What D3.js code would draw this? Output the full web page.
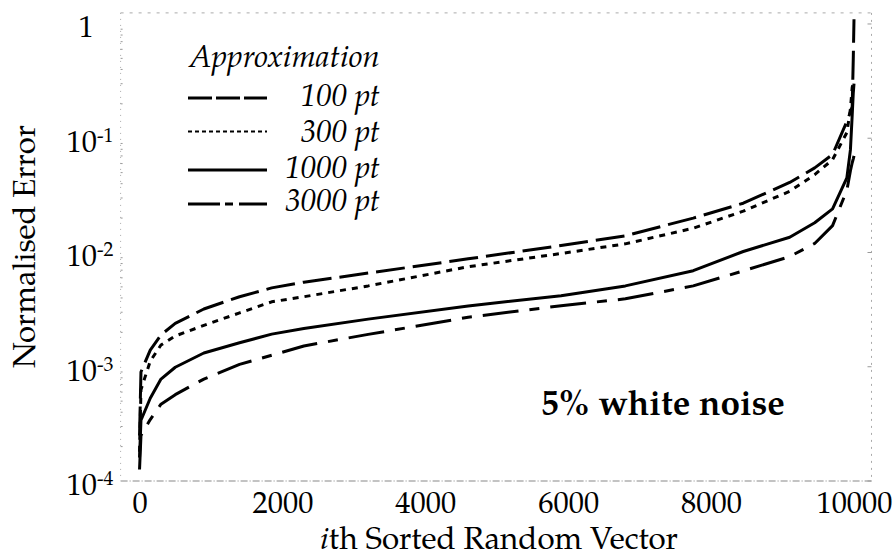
<!DOCTYPE html>
<html><head><meta charset="utf-8">
<script src="https://cdn.jsdelivr.net/npm/d3@7"></script>
<style>body{margin:0;background:#fff} svg{display:block}</style>
</head><body>
<svg id="chart" width="895" height="558"></svg>
<script>
// ---- data ----
const sampleIndex = [0, 20, 150, 300, 500, 900, 1400, 1850, 2300, 3200, 4600, 5900, 6800, 7750, 8450, 9100, 9450, 9700, 9900, 9950, 9975, 9990, 10000];
const err100  = [2.5e-4, 9.0e-4, 1.4e-3, 1.9e-3, 2.4e-3, 3.2e-3, 4.1e-3, 4.9e-3, 5.5e-3, 6.6e-3, 8.8e-3, 1.15e-2, 1.4e-2, 2.0e-2, 2.7e-2, 4.1e-2, 5.5e-2, 7.2e-2, 0.14, 0.17, 0.19, 0.5, 1.1];
const err300  = [1.8e-4, 6.3e-4, 1.12e-3, 1.55e-3, 1.86e-3, 2.3e-3, 2.96e-3, 3.7e-3, 4.1e-3, 5.1e-3, 7.5e-3, 9.8e-3, 1.19e-2, 1.63e-2, 2.3e-2, 3.43e-2, 4.8e-2, 6.5e-2, 0.112, 0.18, 0.28, 0.3, 0.32];
const err1000 = [1.6e-4, 3.4e-4, 5.3e-4, 7.8e-4, 9.9e-4, 1.32e-3, 1.62e-3, 1.93e-3, 2.16e-3, 2.61e-3, 3.4e-3, 4.19e-3, 5.1e-3, 6.93e-3, 1.02e-2, 1.36e-2, 1.82e-2, 2.41e-2, 4.5e-2, 7.9e-2, 0.16, 0.25, 0.3];
const err3000 = [1.26e-4, 2.5e-4, 3.45e-4, 4.7e-4, 5.7e-4, 7.8e-4, 1.05e-3, 1.26e-3, 1.52e-3, 1.92e-3, 2.71e-3, 3.42e-3, 3.93e-3, 5.1e-3, 6.9e-3, 9.2e-3, 1.2e-2, 1.72e-2, 3.5e-2, 5.2e-2, 6.1e-2, 6.6e-2, 7.0e-2];
const seriesNames = ["100 pt", "300 pt", "1000 pt", "3000 pt"];
const xTicks = [0, 2000, 4000, 6000, 8000, 10000];
const yTickExponents = [0, -1, -2, -3, -4];
const legendTitle = "Approximation";
const annotation = "5% white noise";
const xTitleItalic = "i";
const xTitleRest = "th Sorted Random Vector";
const yTitle = "Normalised Error";

// ---- styles ----
const seriesValues = [err100, err300, err1000, err3000];
const dashes = ["29,8", "6,6", null, "36,11,10,11"];
const legendDashes = ["24,4", "4,3", null, "32,5,8,6,30"];
const legendWidths = [3, 2, 3, 3];
const serif = "'TeX Gyre Pagella'";

const svg = d3.select("#chart");

// fit font-size of a text node so its width matches a target width
function fitWidth(sel, target) {
  const n = sel.node();
  const fs = parseFloat(sel.attr("font-size"));
  const w = n.getComputedTextLength();
  if (w > 0) sel.attr("font-size", (fs * target / w).toFixed(2));
  return sel;
}

const x = d3.scaleLinear().domain([-265, 10245]).range([120.6, 871.5]);
const y = d3.scaleLog().domain([1e-4, 1.25]).range([481, 12.9]);

// frame (faint, scanned-looking)
const [x0, x1] = x.range();
const [yb, yt] = y.range();
svg.append("line").attr("x1", x0).attr("x2", x1).attr("y1", yt).attr("y2", yt)
  .attr("stroke", "#aaa").attr("stroke-width", 1).attr("stroke-dasharray", "3,6");
svg.append("line").attr("x1", x0).attr("x2", x0).attr("y1", yt).attr("y2", yb)
  .attr("stroke", "#aaa").attr("stroke-width", 1).attr("stroke-dasharray", "1,5");
svg.append("line").attr("x1", x1).attr("x2", x1).attr("y1", yt).attr("y2", yb)
  .attr("stroke", "#aaa").attr("stroke-width", 1).attr("stroke-dasharray", "2,5");
svg.append("line").attr("x1", x0).attr("x2", x1).attr("y1", yb).attr("y2", yb)
  .attr("stroke", "#888").attr("stroke-width", 1.2).attr("stroke-dasharray", "7,2,1,2");

// minor log ticks (faint)
const minor = [];
for (let e = -4; e < 0; e++) for (let m = 2; m <= 9; m++) minor.push(m * Math.pow(10, e));
svg.append("g").selectAll("line").data(minor).join("line")
  .attr("x1", x0).attr("x2", x0 + 2).attr("y1", d => y(d)).attr("y2", d => y(d))
  .attr("stroke", "#999").attr("stroke-width", 1);
svg.append("g").selectAll("line").data(yTickExponents).join("line")
  .attr("x1", x1 - 4).attr("x2", x1).attr("y1", d => y(Math.pow(10, d))).attr("y2", d => y(Math.pow(10, d)))
  .attr("stroke", "#999").attr("stroke-width", 1);

// x axis labels
const xAxis = d3.axisBottom(x).tickValues(xTicks).tickSize(0).tickPadding(0).tickFormat(d3.format("d"));
const gx = svg.append("g").attr("transform", `translate(0,${yb})`).call(xAxis);
gx.select(".domain").remove();
gx.attr("font-family", serif);
gx.selectAll("text").attr("font-family", serif).attr("font-size", 29).attr("fill", "#000")
  .attr("dy", null).attr("y", 32);
let tickFS = 29;
{
  const probeTick = gx.selectAll("text").filter(d => d === 2000);
  const w = probeTick.node().getComputedTextLength();
  if (w > 0) tickFS = 29 * 61 / w;
  gx.selectAll("text").attr("font-size", tickFS.toFixed(2));
}

// y axis labels (10 with superscript)
const gy = svg.append("g");
yTickExponents.forEach(e => {
  const ty = y(Math.pow(10, e));
  if (e === 0) {
    gy.append("text").attr("x", 86).attr("y", ty + 13).attr("text-anchor", "middle")
      .attr("font-family", serif).attr("font-size", tickFS).text("1");
  } else {
    gy.append("text").attr("x", 97).attr("y", ty + 14).attr("text-anchor", "end")
      .attr("font-family", serif).attr("font-size", tickFS).text("10");
    gy.append("text").attr("x", 97).attr("y", ty + 4).attr("text-anchor", "start")
      .attr("font-family", serif).attr("font-size", tickFS * 0.65).text("-" + Math.abs(e));
  }
});

// axis titles
const yt1 = svg.append("text").attr("transform", "translate(35,246.5) rotate(-90)").attr("text-anchor", "middle")
  .attr("font-family", serif).attr("font-size", 30).text(yTitle);
fitWidth(yt1, 243);
const xt = svg.append("text").attr("x", 499).attr("y", 549).attr("text-anchor", "middle")
  .attr("font-family", serif).attr("font-size", 30);
xt.append("tspan").attr("font-style", "italic").text(xTitleItalic);
xt.append("tspan").text(xTitleRest);
fitWidth(xt, 358);

// curves
const line = d3.line().x(d => x(d[0])).y(d => y(d[1])).curve(d3.curveLinear);
seriesValues.forEach((vals, k) => {
  const pts = sampleIndex.map((ix, j) => [ix, vals[j]]);
  svg.append("path").datum(pts).attr("d", line)
    .attr("fill", "none").attr("stroke", "#000").attr("stroke-width", 3)
    .attr("stroke-linejoin", "round")
    .attr("stroke-dasharray", dashes[k]);
});

// legend
const lt = svg.append("text").attr("x", 189).attr("y", 67).attr("font-family", serif).attr("font-style", "italic")
  .attr("font-size", 28).text(legendTitle);
fitWidth(lt, 191);
const legY = [98, 131.5, 170, 204];
const legBase = [106, 141.5, 178, 211];
const legTexts = [];
seriesNames.forEach((name, k) => {
  svg.append("line").attr("x1", 188).attr("x2", 267).attr("y1", legY[k]).attr("y2", legY[k])
    .attr("stroke", "#000").attr("stroke-width", legendWidths[k]).attr("stroke-dasharray", legendDashes[k]);
  legTexts.push(svg.append("text").attr("x", 380).attr("y", legBase[k]).attr("text-anchor", "end")
    .attr("font-family", serif).attr("font-style", "italic").attr("font-size", 28).text(name));
});
fitWidth(legTexts[3], 95);
const legFS = legTexts[3].attr("font-size");
legTexts.forEach(t => t.attr("font-size", legFS));

// annotation
const an = svg.append("text").attr("x", 541).attr("y", 415).attr("font-family", serif).attr("font-weight", "bold")
  .attr("font-size", 32).text(annotation);
fitWidth(an, 244);
</script>
</body></html>
